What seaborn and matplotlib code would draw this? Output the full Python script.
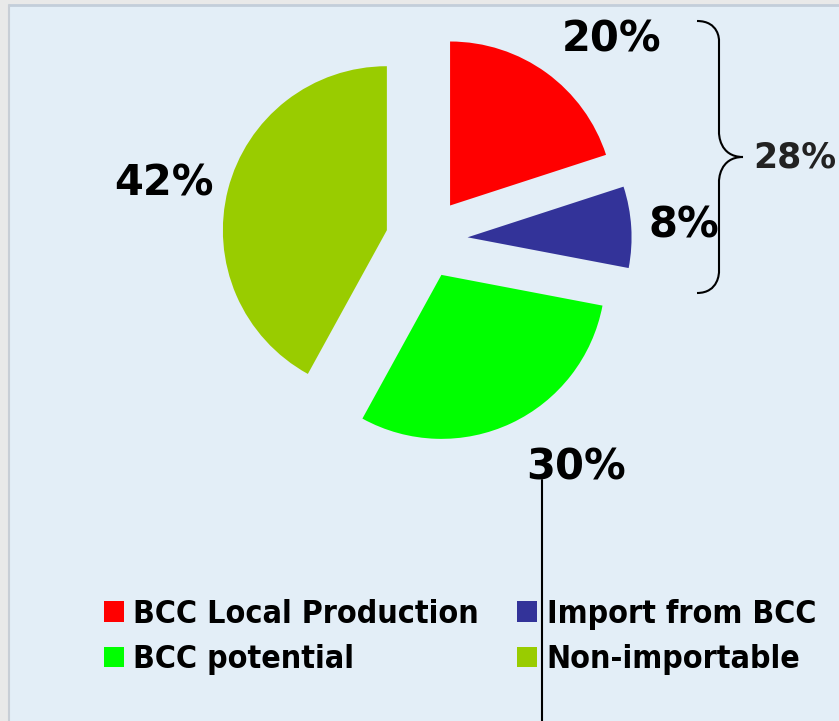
import matplotlib
matplotlib.use("Agg")
import matplotlib.pyplot as plt
import seaborn as sns
from matplotlib.patches import Rectangle, PathPatch
from matplotlib.path import Path

# ---- data ----
categories = ["BCC Local Production", "Import from BCC", "BCC potential", "Non-importable"]
values = [20, 8, 30, 42]
colors = ["#FF0000", "#333399", "#00FF00", "#99CC00"]
explode = [0.26, 0.26, 0.235, 0.24]
group_label = "28%"

sns.set_theme(style="white")
plt.rcParams["font.family"] = ["DejaVu Sans"]

W, H = 839, 721
R = 164
fig = plt.figure(figsize=(W / 100, H / 100), dpi=100, facecolor="#E9E9E9")
ax = fig.add_axes([0, 0, 1, 1])

def P(x, y):
    return (x, H - y)

# panel background
ax.add_patch(Rectangle(P(9, 721), W - 9, 716, facecolor="#E3EEF7",
                       edgecolor="none", zorder=0))
ax.plot([9, W], [H - 5, H - 5], color="#C3CEDA", lw=2, zorder=1)
ax.plot([9, 9], [0, H - 5], color="#C8CED6", lw=1.5, zorder=1)

wedges, _ = ax.pie(values, colors=colors, explode=[e * R for e in explode],
                   startangle=90, counterclock=False, center=P(425, 240),
                   radius=R, frame=True, wedgeprops=dict(linewidth=0))
ax.set_xlim(0, W)
ax.set_ylim(0, H)
ax.set_aspect("equal")
ax.axis("off")

# percentage labels
label_pos = [(612, 40), (684, 226), (576, 467), (164, 183)]
for v, (px, py) in zip(values, label_pos):
    ax.text(*P(px, py), f"{v}%", ha="center", va="center", fontsize=30,
            fontweight="bold", color="black", zorder=5)

# brace for first two slices
verts = [P(697, 21), P(719, 21), P(719, 40), P(719, 40),
         P(719, 133), P(719, 133), P(719, 157), P(743, 157),
         P(719, 157), P(719, 181), P(719, 181),
         P(719, 272), P(719, 272), P(719, 293), P(697, 293)]
codes = [Path.MOVETO, Path.CURVE4, Path.CURVE4, Path.CURVE4,
         Path.LINETO, Path.CURVE4, Path.CURVE4, Path.CURVE4,
         Path.CURVE4, Path.CURVE4, Path.CURVE4,
         Path.LINETO, Path.CURVE4, Path.CURVE4, Path.CURVE4]
ax.add_patch(PathPatch(Path(verts, codes), facecolor="none", edgecolor="black",
                       lw=1.5, zorder=4))
ax.text(*P(795, 157), group_label, ha="center", va="center", fontsize=25,
        fontweight="bold", color="#222222", zorder=5)

# leader line
ax.plot([542, 542], [H - 480, 0], color="black", lw=1.5, zorder=6)

# legend: row-wise order (matplotlib fills columns first)
order = [0, 2, 1, 3]
leg = ax.legend([wedges[i] for i in order], [categories[i] for i in order],
                ncol=2, loc="upper left",
                bbox_to_anchor=(104 / W, 1 - 599 / H), frameon=False,
                fontsize=23, handlelength=0.62, handleheight=0.62,
                handletextpad=0.3, columnspacing=1.2, labelspacing=0.45,
                borderpad=0, borderaxespad=0)
for t in leg.get_texts():
    t.set_fontweight("bold")
    t.set_fontstretch("condensed")
    t.set_color("black")

fig.savefig("out.png", dpi=100, facecolor=fig.get_facecolor())
